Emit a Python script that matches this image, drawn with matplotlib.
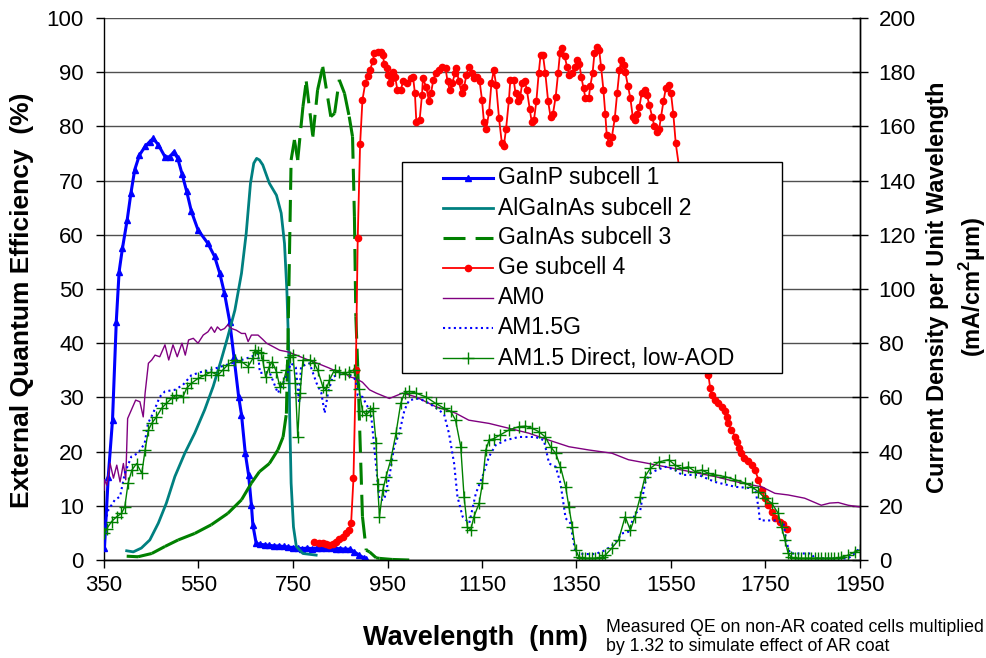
import matplotlib.pyplot as plt
from matplotlib.collections import LineCollection
from matplotlib.lines import Line2D
from matplotlib.patches import Rectangle

W, H = 987, 658

# ---- subcell external quantum efficiency (%) vs wavelength (nm) ----
gainp_wl = [351, 359, 368, 376, 382, 389, 399, 407, 415, 425,
            437, 447, 454, 465, 479, 489, 498, 506, 515, 525,
            535, 549, 570, 584, 595, 605, 616, 625, 635, 641,
            649, 656, 662, 665, 672, 680, 690, 700, 710, 720,
            730, 740, 750, 760, 770, 780, 790, 800, 810, 820,
            830, 840, 850, 860, 870, 880, 890, 900, 905]
gainp_qe = [2.2, 15.4, 25.8, 44.0, 53.2, 57.5, 62.7, 67.7, 72.0, 74.7,
            76.3, 77.2, 77.8, 76.6, 74.4, 74.4, 75.3, 74.1, 71.3, 68.0,
            64.3, 60.9, 58.4, 56.0, 52.9, 49.2, 44.0, 37.5, 30.1, 26.8,
            19.7, 15.7, 10.1, 6.5, 3.1, 2.9, 2.8, 2.7, 2.6, 2.6,
            2.5, 2.4, 2.3, 2.2, 2.1, 2.2, 2.1, 2.2, 2.3, 2.2,
            2.2, 2.1, 2.1, 2.0, 2.0, 1.5, 0.9, 0.4, 0.2]

algainas_wl = [398, 412, 429, 447, 465, 482, 500, 521, 542, 563,
               581, 598, 612, 627, 641, 651, 660, 667, 673, 679,
               686, 700, 715, 725, 732, 737, 741, 743, 746, 751,
               757, 771, 799]
algainas_qe = [1.7, 1.5, 2.2, 3.7, 6.8, 10.5, 15.4, 19.7, 23.4, 27.7,
               32.0, 36.9, 41.2, 46.1, 52.9, 60.3, 69.5, 73.2, 74.1, 73.8,
               72.9, 69.5, 67.3, 64.0, 58.4, 49.8, 38.7, 26.4, 14.2, 6.1,
               2.5, 1.2, 0.9]

gainas_wl = [398, 422, 451, 479, 507, 542, 577, 612, 641, 662,
             679, 700, 718, 729, 736, 739, 746, 753, 760, 771,
             778, 792, 802, 813, 830, 838, 848, 859, 869, 876,
             880, 883, 887, 897, 905, 912, 926, 933, 960, 996]
gainas_qe = [0.7, 0.6, 1.2, 2.5, 3.7, 4.9, 6.5, 8.6, 11.1, 14.2,
             16.3, 17.8, 20.3, 22.7, 27.0, 38.7, 73.8, 77.5, 73.8, 83.6,
             88.3, 78.1, 86.7, 91.0, 81.8, 82.4, 88.6, 86.1, 81.8, 78.1,
             63.3, 44.9, 35.7, 8.0, 1.8, 1.5, 0.4, 0.3, 0.1, 0.0]

ge_wl = [795, 806, 813, 820, 827, 834, 841, 848, 855, 862,
         868, 873, 878, 883, 887, 892, 897, 903, 908, 913,
         919, 922, 929, 936, 940, 943, 948, 952, 955, 959,
         962, 966, 971, 978, 983, 992, 999, 1004, 1008, 1011,
         1018, 1023, 1025, 1032, 1038, 1042, 1047, 1052, 1059, 1066,
         1073, 1077, 1082, 1087, 1093, 1096, 1101, 1107, 1112, 1117,
         1122, 1128, 1133, 1140, 1145, 1150, 1154, 1159, 1165, 1170,
         1175, 1180, 1186, 1192, 1196, 1201, 1207, 1210, 1217, 1221,
         1227, 1231, 1235, 1241, 1245, 1251, 1255, 1260, 1265, 1270,
         1274, 1279, 1284, 1290, 1295, 1300, 1306, 1311, 1315, 1320,
         1325, 1330, 1335, 1341, 1346, 1351, 1356, 1360, 1365, 1369,
         1376, 1379, 1384, 1388, 1393, 1398, 1402, 1407, 1411, 1414,
         1419, 1425, 1431, 1436, 1441, 1445, 1450, 1453, 1459, 1464,
         1469, 1474, 1478, 1483, 1488, 1494, 1499, 1504, 1510, 1515,
         1520, 1525, 1529, 1534, 1539, 1545, 1550, 1555, 1560,
         1629, 1633, 1636, 1643, 1650, 1657, 1664, 1668, 1671, 1678,
         1686, 1689, 1693, 1698, 1705, 1712, 1721, 1728, 1735, 1742,
         1749, 1756, 1763, 1771, 1780, 1788, 1795]
ge_qe = [3.4, 3.2, 3.1, 3.0, 2.8, 3.0, 3.4, 3.8, 4.3, 4.9,
         5.5, 6.8, 15.1, 35.0, 59.4, 76.7, 84.9, 88.0, 89.3, 90.4,
         92.0, 93.5, 93.8, 93.8, 93.2, 91.6, 90.7, 89.5, 88.0, 88.9,
         90.1, 89.2, 86.7, 86.7, 88.3, 88.0, 88.9, 89.2, 86.1, 80.9,
         81.2, 85.8, 88.9, 87.2, 84.6, 86.1, 88.6, 89.8, 90.4, 91.0,
         90.7, 88.3, 86.7, 88.0, 89.8, 90.7, 88.3, 86.1, 87.2, 89.5,
         91.0, 89.8, 88.9, 89.2, 88.3, 84.9, 80.9, 79.6, 82.7, 88.0,
         90.4, 87.6, 81.5, 76.9, 76.3, 79.6, 84.9, 88.6, 88.6, 86.1,
         84.6, 85.5, 88.0, 88.3, 86.7, 83.3, 80.9, 81.2, 84.6, 89.8,
         93.2, 93.2, 89.8, 84.6, 81.8, 82.2, 85.5, 89.8, 93.5, 94.4,
         92.9, 91.0, 89.5, 89.8, 91.0, 92.3, 91.6, 89.2, 87.0, 85.2,
         85.2, 87.4, 89.8, 93.5, 94.6, 94.1, 91.0, 86.7, 82.2, 78.4,
         76.9, 78.1, 81.5, 86.1, 90.4, 92.3, 91.3, 90.1, 87.4, 85.2,
         81.8, 81.2, 82.2, 83.6, 86.1, 86.7, 85.8, 84.0, 81.8, 80.0,
         79.0, 79.6, 81.8, 84.6, 87.0, 87.6, 86.1, 82.2, 76.9,
         34.1, 31.7, 30.4, 29.5, 28.9, 28.3, 27.4, 26.4, 25.2, 24.0,
         22.7, 21.8, 20.6, 19.7, 18.9, 18.3, 17.5, 16.6, 14.8, 12.9,
         11.4, 10.1, 8.9, 7.7, 7.1, 6.6, 5.8]

# ---- spectra as current density per unit wavelength (mA/cm2/um) ----
am0_wl = [350, 351, 356, 363, 370, 377, 384, 391, 396, 400,
          408, 417, 426, 433, 437, 444, 451, 458, 468, 479,
          487, 496, 505, 515, 522, 529, 539, 549, 560, 570,
          577, 584, 590, 597, 605, 612, 620, 630, 641, 649,
          655, 662, 676, 686, 694, 707, 722, 739, 757, 774,
          792, 810, 827, 845, 862, 869, 883, 897, 912, 926,
          954, 982, 1010, 1052, 1094, 1122, 1165, 1207, 1249, 1292,
          1334, 1376, 1425, 1460, 1503, 1573, 1643, 1699, 1742, 1770,
          1798, 1833, 1868, 1886, 1904, 1925, 1949]
am0_j = [25.8, 29.6, 27.6, 35.6, 30.2, 35.0, 28.8, 35.6, 29.6, 52.2,
         55.4, 59.0, 58.4, 52.8, 61.6, 72.6, 73.8, 75.6, 75.0, 79.4,
         73.8, 79.4, 75.0, 80.0, 75.6, 81.2, 81.8, 80.0, 83.0, 84.2,
         86.0, 84.0, 86.0, 84.8, 85.4, 86.8, 85.4, 84.8, 83.6, 83.6,
         80.6, 83.0, 83.0, 81.4, 80.0, 78.8, 77.4, 76.8, 75.6, 74.4,
         73.2, 72.0, 70.8, 69.4, 68.8, 67.6, 67.0, 65.6, 62.8, 61.6,
         59.6, 61.6, 60.2, 56.6, 54.2, 51.6, 50.4, 48.6, 46.8, 44.2,
         41.8, 40.6, 39.4, 37.0, 35.6, 33.2, 30.8, 28.4, 27.0, 24.6,
         24.0, 22.8, 20.2, 21.0, 21.2, 20.2, 19.6]

am15g_wl = [350, 359, 373, 384, 394, 408, 422, 436, 443, 454,
            468, 479, 500, 517, 535, 556, 577, 598, 620, 641,
            662, 676, 680, 700, 707, 718, 732, 746, 756, 763,
            767, 785, 800, 810, 817, 824, 834, 855, 869, 876,
            883, 887, 897, 915, 926, 933, 943, 954, 964, 975,
            986, 996, 1017, 1038, 1059, 1070, 1080, 1091, 1098, 1109,
            1123, 1137, 1151, 1165, 1179, 1200, 1228, 1263, 1281, 1292,
            1306, 1316, 1327, 1337, 1348, 1369, 1390, 1411, 1432, 1446,
            1460, 1474, 1485, 1495, 1506, 1520, 1538, 1559, 1573, 1608,
            1643, 1686, 1728, 1735, 1738, 1770, 1788, 1795, 1802, 1847,
            1854, 1925, 1943, 1949]
am15g_j = [12.2, 18.4, 22.2, 23.4, 32.0, 38.2, 39.4, 43.0, 50.4, 54.2,
           60.2, 62.2, 62.8, 64.6, 68.2, 69.4, 70.2, 71.4, 72.6, 73.8,
           75.0, 76.2, 69.0, 69.4, 66.4, 61.6, 66.4, 72.6, 71.0, 57.8,
           71.4, 72.6, 65.2, 61.6, 54.2, 61.6, 67.6, 68.8, 68.2, 67.6,
           66.4, 60.8, 60.2, 54.2, 34.4, 22.2, 22.2, 30.8, 41.8, 46.8,
           55.4, 59.0, 59.6, 57.8, 55.4, 53.6, 46.8, 35.6, 23.4, 16.0,
           13.6, 24.6, 30.8, 38.2, 42.4, 44.2, 45.4, 45.4, 44.2, 35.6,
           34.4, 28.4, 15.4, 13.6, 2.4, 2.2, 2.2, 3.6, 6.2, 9.8,
           10.4, 17.2, 18.4, 28.4, 32.0, 33.2, 34.4, 33.2, 31.4, 31.4,
           28.8, 27.0, 26.4, 19.6, 14.6, 14.6, 13.6, 6.2, 2.4, 2.4,
           0.6, 0.6, 3.0, 5.0]

direct_wl = [350, 356, 366, 377, 387, 394, 401, 409, 419, 430,
             437, 444, 451, 461, 472, 482, 493, 503, 517, 525,
             535, 549, 563, 577, 591, 602, 612, 627, 641, 655,
             665, 669, 676, 683, 686, 692, 700, 706, 715, 722,
             729, 736, 743, 750, 755, 760, 765, 771, 785, 795,
             802, 813, 820, 827, 838, 848, 859, 869, 880, 890,
             897, 905, 912, 919, 926, 929, 933, 940, 947, 957,
             968, 978, 986, 996, 1010, 1031, 1052, 1070, 1084, 1094,
             1105, 1112, 1119, 1126, 1133, 1144, 1151, 1158, 1165, 1175,
             1189, 1207, 1228, 1242, 1256, 1270, 1284, 1295, 1306, 1316,
             1327, 1334, 1341, 1348, 1355, 1362, 1369, 1376, 1383, 1390,
             1397, 1404, 1411, 1425, 1439, 1453, 1464, 1474, 1485, 1495,
             1506, 1524, 1545, 1559, 1573, 1587, 1601, 1615, 1629, 1643,
             1664, 1686, 1707, 1721, 1735, 1749, 1763, 1777, 1784, 1791,
             1798, 1805, 1812, 1819, 1826, 1833, 1840, 1847, 1854, 1861,
             1868, 1875, 1882, 1889, 1896, 1903, 1910, 1925, 1939, 1949]
direct_j = [9.8, 11.6, 14.2, 16.0, 17.2, 19.6, 28.4, 33.2, 35.6, 32.0,
            40.6, 48.0, 50.4, 52.8, 56.0, 57.8, 59.6, 60.8, 60.2, 63.4,
            65.2, 67.0, 68.2, 69.4, 68.2, 70.2, 72.0, 73.8, 73.2, 71.4,
            74.4, 77.4, 76.8, 76.2, 73.8, 67.6, 71.4, 73.2, 69.4, 64.0,
            65.2, 70.2, 75.0, 75.6, 65.2, 45.4, 61.6, 73.8, 73.8, 72.6,
            70.2, 64.0, 62.8, 66.4, 70.2, 69.4, 68.8, 69.4, 70.2, 63.0,
            55.0, 53.6, 54.8, 56.0, 43.0, 28.0, 16.0, 25.8, 30.8, 37.0,
            46.8, 57.8, 61.6, 62.2, 61.6, 60.2, 57.8, 56.0, 54.8, 51.6,
            41.8, 23.4, 12.2, 11.0, 16.0, 21.0, 28.4, 40.6, 44.2, 44.8,
            46.2, 48.0, 49.2, 49.4, 48.6, 47.4, 45.4, 41.8, 39.4, 34.4,
            27.0, 19.6, 12.2, 3.6, 1.2, 0.6, 0.6, 0.6, 0.6, 0.6,
            0.8, 1.0, 1.8, 4.4, 7.4, 16.0, 11.0, 16.0, 23.4, 30.8,
            33.8, 36.2, 37.0, 35.0, 33.8, 34.4, 32.6, 33.2, 32.0, 31.4,
            30.8, 29.6, 28.4, 27.0, 25.2, 22.8, 21.0, 17.2, 12.2, 7.4,
            2.4, 1.0, 0.6, 0.6, 0.6, 0.6, 0.6, 0.6, 0.6, 0.6,
            0.6, 0.6, 0.6, 0.6, 0.6, 0.8, 1.0, 1.8, 3.0, 3.6]

GAINAS_DASH = (7.2, 3.3)

plt.rcParams.update({
    "font.family": "Liberation Sans",
    "font.size": 16,
    "mathtext.fontset": "custom",
    "mathtext.rm": "Liberation Sans",
    "mathtext.bf": "Liberation Sans:bold",
})

fig = plt.figure(figsize=(W / 100, H / 100), dpi=100)
ax = fig.add_axes([104 / W, 1 - 560 / H, (860 - 104) / W, 542 / H])
ax2 = ax.twinx()


def fx(px):
    return px / W


def fy(py):
    return 1 - py / H


# QE curves on the left axis
ax.plot(gainp_wl, gainp_qe, color="#0000FF", lw=2.2, marker="^", ms=5,
        mec="#0000FF", zorder=3)
ax.plot(algainas_wl, algainas_qe, color="#008080", lw=2.0, zorder=3)
# Excel restarts the dash pattern at every data point, so draw segment by segment
segs = [[(gainas_wl[i], gainas_qe[i]), (gainas_wl[i + 1], gainas_qe[i + 1])]
        for i in range(len(gainas_wl) - 1)]
ax.add_collection(LineCollection(segs, colors="#008000", linewidths=2.2,
                                 linestyles=[(0, GAINAS_DASH)], zorder=3))
ax.plot(ge_wl, ge_qe, color="#FF0000", lw=1.3, marker="o", ms=4.5, zorder=3)

# spectra on the right axis
ax2.plot(am0_wl, am0_j, color="#800080", lw=1.0)
ax2.plot(am15g_wl, am15g_j, color="#0000FF", lw=1.5, ls=(0, (1, 1.6)))
ax2.plot(direct_wl, direct_j, color="#008000", lw=1.0, marker="+", ms=8, mew=1.0)

ax.set_xlim(350, 1950)
ax.set_xticks(range(350, 1951, 200))
ax.set_ylim(0, 100)
ax.set_yticks(range(0, 101, 10))
ax2.set_ylim(0, 200)
ax2.set_yticks(range(0, 201, 20))

ax.yaxis.grid(True, color="#505050", lw=1.0)
ax.set_axisbelow(True)
for a in (ax, ax2):
    a.spines["top"].set_visible(False)
    for s in a.spines.values():
        s.set_color("black")
        s.set_linewidth(1.0)
ax2.spines["left"].set_visible(False)

ax.tick_params(axis="x", direction="out", length=5.5, width=1, pad=5, labelsize=16)
ax.tick_params(axis="y", direction="out", length=5.5, width=1, pad=9, labelsize=16)
ax2.tick_params(axis="y", direction="inout", length=11, width=1, pad=8, labelsize=16)

# axis titles
fig.text(fx(475), fy(638), "Wavelength  (nm)", ha="center", va="center",
         fontsize=19.5, fontweight="bold")
fig.text(fx(22), fy(300), "External Quantum Efficiency  (%)", ha="center",
         va="center", rotation=90, fontsize=19, fontweight="bold")
fig.text(fx(957), fy(287),
         "Current Density per Unit Wavelength\n(mA/cm$^\\mathbf{2}$µm)",
         ha="center", va="center", rotation=90, fontsize=17, fontweight="bold",
         multialignment="center", linespacing=1.3)

fig.text(fx(606), fy(637),
         "Measured QE on non-AR coated cells multiplied\nby 1.32 to simulate effect of AR coat",
         ha="left", va="center", fontsize=12.8, linespacing=1.2)

# legend box
fig.add_artist(Rectangle((fx(402), fy(373)), (782 - 402) / W, (373 - 162) / H,
                         transform=fig.transFigure, fc="white", ec="black",
                         lw=1.0, zorder=10))
entries = [
    ("GaInP subcell 1", dict(color="#0000FF", lw=2.2, marker="^", ms=5)),
    ("AlGaInAs subcell 2", dict(color="#008080", lw=2.0)),
    ("GaInAs subcell 3", dict(color="#008000", lw=2.2, dashes=GAINAS_DASH,
                              dash_capstyle="butt")),
    ("Ge subcell 4", dict(color="#FF0000", lw=1.3, marker="o", ms=4.5)),
    ("AM0", dict(color="#800080", lw=1.0)),
    ("AM1.5G", dict(color="#0000FF", lw=1.5, ls=(0, (1, 1.6)))),
    ("AM1.5 Direct, low-AOD", dict(color="#008000", lw=1.0, marker="+", ms=8, mew=1.0)),
]
for i, (label, style) in enumerate(entries):
    yc = 178 + i * 30
    fig.add_artist(Line2D([fx(443), fx(468), fx(493)], [fy(yc)] * 3,
                          transform=fig.transFigure, markevery=[1],
                          zorder=11, **style))
    fig.text(fx(498), fy(yc), label, ha="left", va="center", fontsize=16.5,
             zorder=11)

fig.savefig("out.png", dpi=100)
